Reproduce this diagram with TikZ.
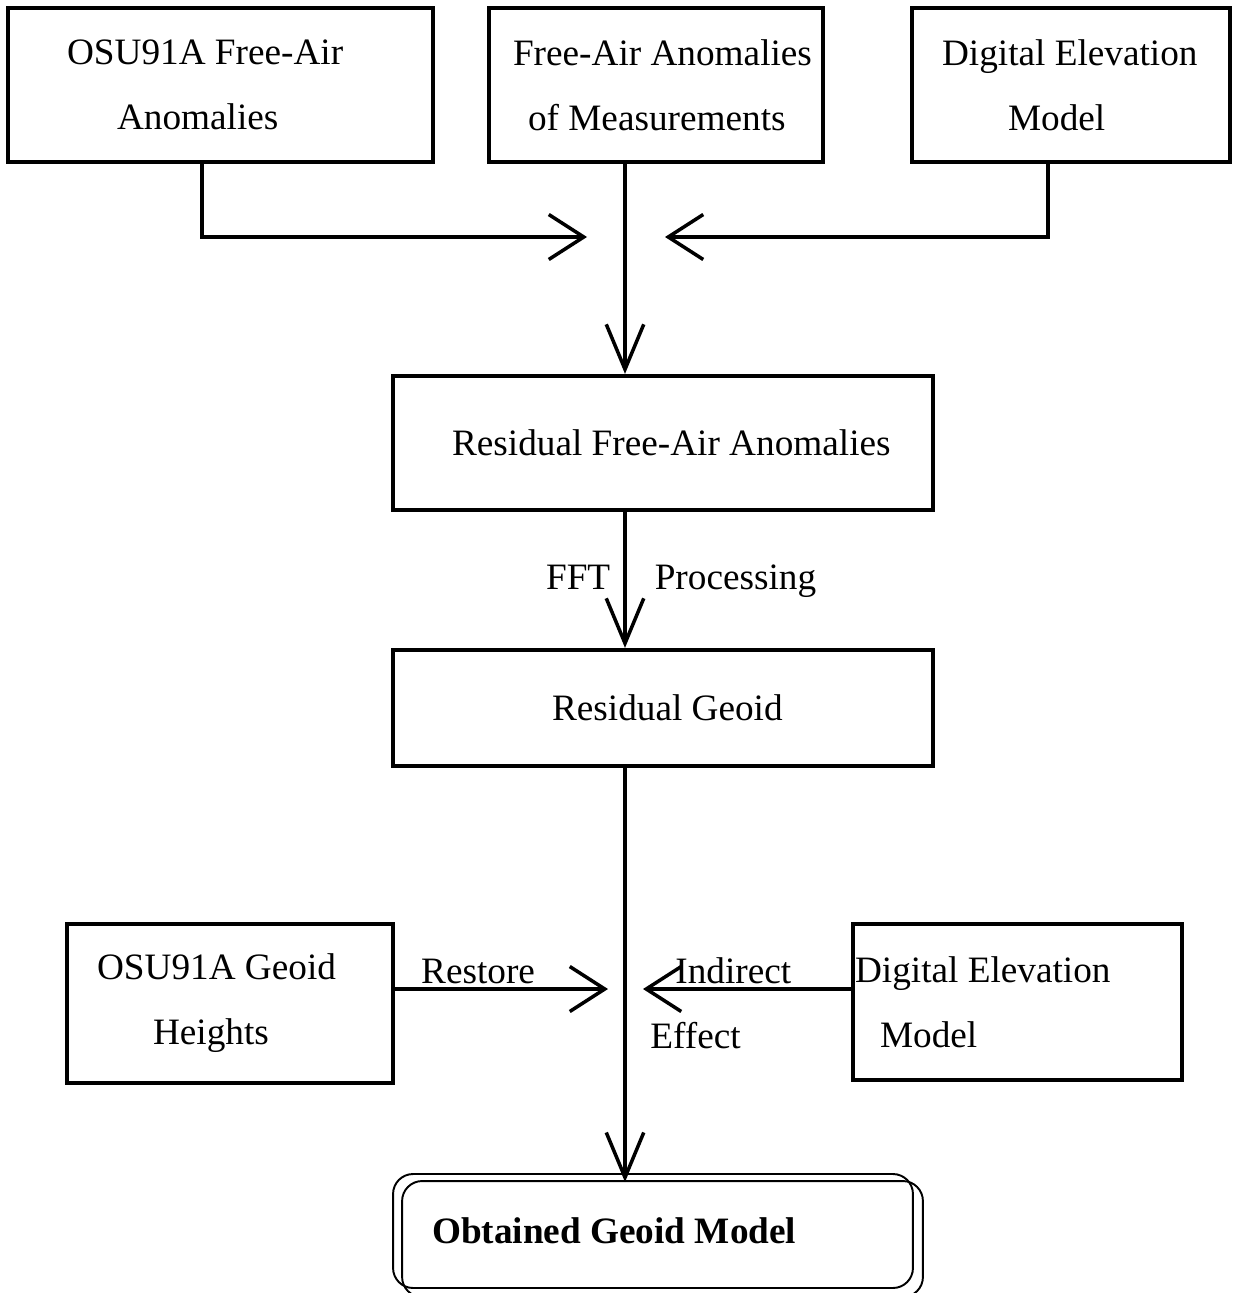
\documentclass[tikz,border=0pt]{standalone}
\usepackage{fontspec}
\setmainfont{Liberation Serif}
\usetikzlibrary{arrows.meta, positioning, calc}

\begin{document}
\begin{tikzpicture}[
  x=0.02cm, y=-0.02cm,
  font=\fontsize{21.2pt}{36.9pt}\selectfont,
  block/.style={
    draw, line width=2.4pt, align=flush left, inner xsep=0pt, inner ysep=0pt
  },
  result/.style={
    draw, rounded corners=0.4cm, line width=1.1pt, align=flush left,
    inner xsep=0pt, inner ysep=0pt, font=\fontsize{21.2pt}{36.9pt}\selectfont\bfseries
  },
  conn/.style={line width=2pt, draw=black},
  harr/.style={conn, -{Straight Barb[length=0.7cm, width=0.9cm]}},
  varr/.style={conn, -{Straight Barb[length=0.9cm, width=0.75cm]}},
  lab/.style={inner sep=0pt}
]
  \useasboundingbox (0,0) rectangle (1238,1293);

  % input data
  \node[block, text width=8.5cm, minimum height=3.08cm] (osufa) at (220.5,85)
    {\hspace*{1.18cm}OSU91A Free-Air\\\hspace*{2.18cm}Anomalies};
  \node[block, text width=6.68cm, minimum height=3.08cm] (meas) at (656,85)
    {\hspace*{0.48cm}Free-Air Anomalies\\\hspace*{0.78cm}of Measurements};
  \node[block, text width=6.36cm, minimum height=3.08cm] (dem) at (1071,85)
    {\hspace*{0.6cm}Digital Elevation\\\hspace*{1.92cm}Model};

  % processing
  \node[block, text width=10.8cm, minimum height=2.68cm] (resfa) at (663,443)
    {\hspace*{1.18cm}Residual Free-Air Anomalies};
  \node[block, text width=10.8cm, minimum height=2.32cm] (resgeo) at (663,708)
    {\hspace*{3.18cm}Residual Geoid};

  % restore step
  \node[block, text width=6.52cm, minimum height=3.18cm] (osugh) at (230,1003.5)
    {\hspace*{0.6cm}OSU91A Geoid\\\hspace*{1.72cm}Heights};
  \node[block, text width=6.58cm, minimum height=3.12cm] (dem2) at (1017.5,1002)
    {\hspace*{0.04cm}Digital Elevation\\\hspace*{0.54cm}Model};

  \node[result, text width=10.4cm, minimum height=2.28cm] (final) at (653,1231)
    {\hspace*{0.78cm}Obtained Geoid Model};
  \draw[line width=1.1pt, rounded corners=0.4cm]
    ($(final.north west)+(10,8)$) rectangle ($(final.south east)+(9,8)$);

  \coordinate (spine) at (625,0);
  \coordinate (jl) at (587,237);
  \coordinate (jr) at (665,237);
  \coordinate (rl) at (608,989);
  \coordinate (il) at (643,989);

  \draw[harr] ([xshift=-0.37cm]osufa.south) |- (jl);
  \draw[harr] ([xshift=-0.46cm]dem.south) |- (jr);
  \draw[varr] (meas.south -| spine) -- (resfa.north -| spine);

  \draw[varr] (resfa.south -| spine) --
    node[lab, anchor=base east, xshift=-0.26cm, yshift=-0.2cm] (fft) {FFT}
    node[lab, anchor=base west, xshift=0.56cm, yshift=-0.2cm] (proc) {Processing}
    (resgeo.north -| spine);
  \draw[varr] (resgeo.south -| spine) -- ($(final.north -| spine)+(0,9)$);

  \draw[harr] (osugh.east |- rl) --
    node[lab, anchor=base, pos=0.39, yshift=0.12cm] (rest) {Restore} (rl);
  \draw[harr] (dem2.west |- il) -- (il);
  \node[lab, align=flush left, anchor=north west] (indeff) at (650,957)
    {\hspace*{0.5cm}Indirect\\Effect};
\end{tikzpicture}
\end{document}
